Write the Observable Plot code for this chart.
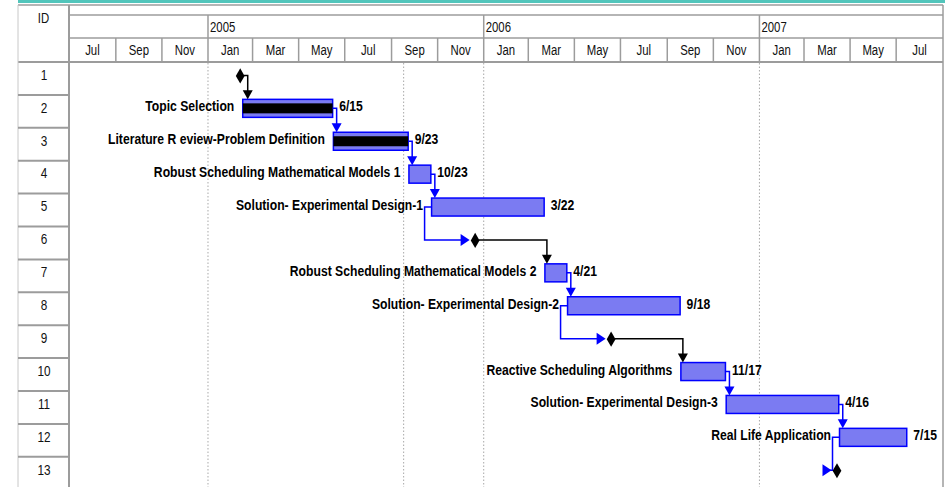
<!DOCTYPE html>
<html><head><meta charset="utf-8">
<script src="https://cdn.jsdelivr.net/npm/d3@7"></script>
<script src="https://cdn.jsdelivr.net/npm/@observablehq/plot@0.6"></script>
<style>
html,body{margin:0;padding:0;background:#fff;}
</style>
</head><body><div id="chart"></div>
<script>
// ---- data ----
const ids = [1,2,3,4,5,6,7,8,9,10,11,12,13];
const taskNames = ["", "Topic Selection", "Literature R eview-Problem Definition",
  "Robust Scheduling Mathematical Models 1", "Solution- Experimental Design-1", "",
  "Robust Scheduling Mathematical Models 2", "Solution- Experimental Design-2", "",
  "Reactive Scheduling Algorithms", "Solution- Experimental Design-3", "Real Life Application", ""];
const startDates = [null, "2005-02-16", "2005-06-16", "2005-09-24", "2005-10-24", null,
  "2006-03-23", "2006-04-22", null, "2006-09-19", "2006-11-18", "2007-04-17", null];
const finishDates = [null, "2005-06-15", "2005-09-23", "2005-10-23", "2006-03-22", null,
  "2006-04-21", "2006-09-18", null, "2006-11-17", "2007-04-16", "2007-07-15", null];
const finishLabels = ["", "6/15", "9/23", "10/23", "3/22", "", "4/21", "9/18", "", "11/17", "4/16", "7/15", ""];
const percentComplete = [0, 100, 100, 0, 0, 0, 0, 0, 0, 0, 0, 0, 0];
const milestoneDates = ["2005-02-12", null, null, null, null, "2005-12-20", null, null,
  "2006-06-18", null, null, null, "2007-04-13"];
const links = [[1,2],[2,3],[3,4],[4,5],[5,6],[6,7],[7,8],[8,9],[9,10],[10,11],[11,12],[12,13]];
const monthLabels = ["Jul","Sep","Nov","Jan","Mar","May","Jul","Sep","Nov","Jan","Mar","May","Jul","Sep","Nov","Jan","Mar","May","Jul"];
const yearLabels = ["2005","2006","2007"];
const timelineStart = "2004-07-01";
const timelineEnd = "2007-09-01";
const statusDate = "2005-09-17";

// ---- layout ----
const W = 951, H = 487;
const TOP = 62, ROW_H = 32.9;
const LEFT = 18, IDR = 69, RIGHT = 943;
const FONT = "'Liberation Sans',Arial,sans-serif";
const NARROW = 0.785;
const BLUE = "#0000ff", FILL = "#7b7bf2", GRID = "#9c9c9c";

const tasks = ids.map((id, i) => ({
  id, name: taskNames[i],
  start: startDates[i] ? new Date(startDates[i]) : null,
  finish: finishDates[i] ? new Date(finishDates[i]) : null,
  label: finishLabels[i], pct: percentComplete[i],
  milestone: milestoneDates[i] ? new Date(milestoneDates[i]) : null
}));
const bars = tasks.filter(t => t.start);
const miles = tasks.filter(t => t.milestone);

function headerMark(index, {x, y}) {
  const g = d3.create("svg:g");
  const t0 = new Date(timelineStart), t1 = new Date(timelineEnd);
  const line = (x1, y1, x2, y2, w = 1, c = GRID, dash = null) => {
    const l = g.append("line").attr("x1", x1).attr("y1", y1).attr("x2", x2).attr("y2", y2)
      .attr("stroke", c).attr("stroke-width", w);
    if (dash) l.attr("stroke-dasharray", dash);
  };
  const label = (tx, ty, str, anchor) => g.append("text").attr("x", tx).attr("y", ty).attr("dy", "0.35em")
      .attr("text-anchor", anchor).attr("font-size", 14.5).attr("font-family", FONT).attr("fill", "#111").text(str);
  g.append("rect").attr("x", LEFT).attr("y", 0).attr("width", 927).attr("height", 3).attr("fill", "#52c5bb");
  line(LEFT, 5, RIGHT, 5, 1.5);
  line(IDR, 15, RIGHT, 15, 1.5);
  line(IDR, 38, RIGHT, 38, 1.5);
  line(LEFT, TOP, RIGHT, TOP, 2);
  line(LEFT, 5, LEFT, H, 1, "#c8c8c8");
  line(IDR, 5, IDR, H, 2);
  line(RIGHT, 5, RIGHT, H, 1.5);
  for (let i = 1; i < ids.length; i++) line(LEFT, y(i), IDR, y(i), 2);
  const years = d3.utcYear.range(t0, t1);
  years.forEach((d, i) => {
    line(x(d), 15, x(d), 38, 1.5);
    label(x(d) + 2, 27, yearLabels[i], "start");
  });
  const months = d3.utcMonth.every(2).range(t0, t1);
  months.forEach((d, i) => {
    const next = i + 1 < months.length ? months[i + 1] : t1;
    if (i > 0) line(x(d), 38, x(d), TOP, 1.5);
    label((x(d) + x(next)) / 2, 50, monthLabels[i], "middle");
  });
  label((LEFT + IDR) / 2, 18, "ID", "middle");
  [...years, new Date(statusDate)].forEach(d => line(x(d), TOP + 1, x(d), H, 1, "#a8a8a8", "1.5,2"));
  return g.node();
}

function linkMark(index, {x, y}) {
  const g = d3.create("svg:g");
  const HALF = 9;
  for (const [p, s] of links) {
    const P = tasks[p - 1], S = tasks[s - 1];
    const color = P.milestone ? "#000" : BLUE;
    const yp = y(p - 0.5) - 3, ys = y(s - 0.5) - 3;
    const pEnd = P.milestone ? x(P.milestone) + 4 : x(P.finish);
    const pStart = P.milestone ? x(P.milestone) - 4 : x(P.start);
    const sStart = S.milestone ? x(S.milestone) - 5 : x(S.start);
    if (sStart >= pEnd - 2) {
      const ax = Math.max(sStart + 2, pEnd + 4);
      const tip = ys - HALF;
      g.append("path").attr("d", `M${pEnd},${yp}H${ax}V${tip - 7}`)
        .attr("fill", "none").attr("stroke", color).attr("stroke-width", 1.5);
      g.append("path").attr("d", `M${ax - 5},${tip - 9}L${ax + 5},${tip - 9}L${ax},${tip}Z`).attr("fill", color);
    } else {
      const lx = pStart - 7;
      g.append("path").attr("d", `M${pStart},${yp}H${lx}V${ys}H${sStart - 7}`)
        .attr("fill", "none").attr("stroke", color).attr("stroke-width", 1.5);
      g.append("path").attr("d", `M${sStart - 9},${ys - 6}L${sStart - 9},${ys + 6}L${sStart},${ys}Z`).attr("fill", color);
    }
  }
  return g.node();
}

const chart = Plot.plot({
  width: W, height: H, margin: 0,
  style: {fontFamily: FONT, background: "white", overflow: "hidden"},
  x: {type: "utc", domain: [new Date(timelineStart), new Date(timelineEnd)], range: [IDR, RIGHT], axis: null},
  y: {domain: [0, ids.length], range: [TOP, TOP + ids.length * ROW_H], axis: null},
  marks: [
    headerMark,
    Plot.text(ids, {y: d => d - 0.5, dy: -4, frameAnchor: "left", dx: (LEFT + IDR) / 2, text: d => String(d), textAnchor: "middle", fontSize: 15, fill: "#111"}),
    Plot.rect(bars, {x1: "start", x2: "finish", y1: d => d.id - 1, y2: d => d.id, insetTop: 4.45, insetBottom: 10.45, fill: FILL, stroke: BLUE, strokeWidth: 1.5}),
    Plot.rect(bars.filter(d => d.pct > 0), {x1: "start", x2: d => new Date(+d.start + d.pct / 100 * (d.finish - d.start)), y1: d => d.id - 1, y2: d => d.id, insetTop: 8.45, insetBottom: 14.45, fill: "black"}),
    linkMark,
    Plot.dot(miles, {x: "milestone", y: d => d.id - 0.5, dy: -3, symbol: "diamond", r: 4.6, fill: "black", stroke: null}),
    Plot.text(bars, {x: "start", y: d => d.id - 0.5, dx: -9, dy: -5.5, text: "name", textAnchor: "end", fontWeight: "bold", fontSize: 15.5, fill: "#000"}),
    Plot.text(bars, {x: "finish", y: d => d.id - 0.5, dx: 6, dy: -5.5, text: "label", textAnchor: "start", fontWeight: "bold", fontSize: 15.5, fill: "#000"})
  ]
});
// render all text in a narrow (condensed) face: compress horizontally about each anchor point
chart.querySelectorAll("text").forEach(t => {
  const tx = parseFloat(t.getAttribute("x")) || 0;
  const tr = t.getAttribute("transform") || "";
  t.setAttribute("transform", `${tr} translate(${tx},0) scale(${NARROW},1)`);
  t.setAttribute("x", 0);
});
document.getElementById("chart").append(chart);
</script>
</body></html>
